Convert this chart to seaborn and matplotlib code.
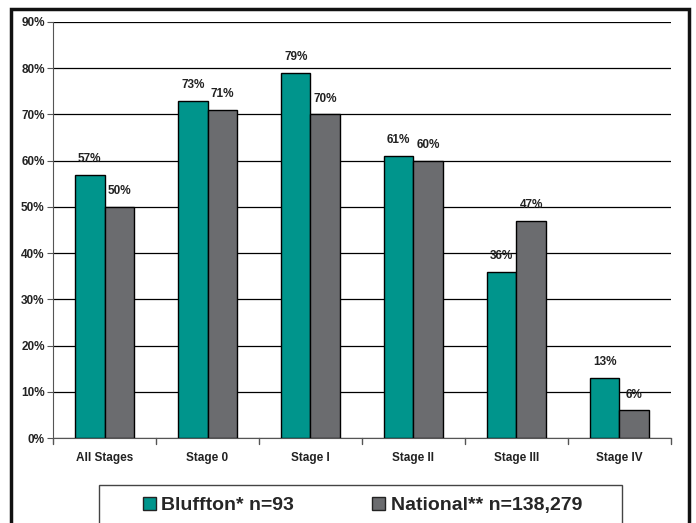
import seaborn as sns
import matplotlib.pyplot as plt
import matplotlib.patches as mpatches
import pandas as pd

sns.set_style("white")
plt.rcParams['font.family'] = ['Liberation Sans', 'DejaVu Sans']

stages = ["All Stages", "Stage 0", "Stage I", "Stage II", "Stage III", "Stage IV"]
bluffton = [57, 73, 79, 61, 36, 13]
national = [50, 71, 70, 60, 47, 6]
series = ["Bluffton* n=93", "National** n=138,279"]
colors = ["#00958C", "#6B6C6F"]

df = pd.DataFrame({
    "stage": stages * 2,
    "value": bluffton + national,
    "series": [series[0]] * len(stages) + [series[1]] * len(stages),
})

fig = plt.figure(figsize=(6.96, 5.23), dpi=100)
ax = fig.add_axes([0.0762, 0.1625, 0.8878, 0.7955])

sns.barplot(data=df, x="stage", y="value", hue="series", palette=colors,
            saturation=1, width=0.57, edgecolor="black", linewidth=1, ax=ax,
            legend=False, zorder=3)

# value labels
for cont in ax.containers:
    ax.bar_label(cont, labels=[f"{int(v)}%" for v in cont.datavalues],
                 padding=7, fontsize=8.5, fontweight="bold", color="#222222")

ax.set_ylim(0, 90)
ax.set_yticks(range(0, 91, 10))
ax.set_yticklabels([f"{t}%" for t in range(0, 91, 10)], fontsize=8.5,
                   fontweight="bold", color="#222222")
ax.yaxis.grid(True, color="black", linewidth=0.9, zorder=0)
ax.set_axisbelow(True)
ax.set_xlim(-0.5, len(stages) - 0.5)
ax.set_xticks(range(len(stages)))
ax.set_xticklabels(stages, fontsize=8.5, fontweight="bold", color="#222222")
ax.tick_params(axis="x", length=0, pad=10)
ax.tick_params(axis="y", left=True, length=4, color="#555555", pad=2)
# category separator ticks
for k in range(len(stages) + 1):
    ax.plot([k - 0.5, k - 0.5], [0, -1.2], color="#555555", lw=1,
            clip_on=False, zorder=4)
ax.set_xlabel("")
ax.set_ylabel("")
for s in ["top", "right"]:
    ax.spines[s].set_visible(False)
ax.spines["left"].set_color("#555555")
ax.spines["bottom"].set_color("#555555")

# legend (frame drawn separately)
handles = [mpatches.Patch(facecolor=c, edgecolor="#222222", label=l)
           for c, l in zip(colors, series)]
fig.legend(handles=handles, loc="center", bbox_to_anchor=(0.5208, 0.0335),
           ncol=2, frameon=False, handlelength=0.67, handleheight=0.67,
           handletextpad=0.3, columnspacing=4.0,
           prop={"weight": "bold", "size": 14})
fig.patches.append(mpatches.Rectangle((99 / 696, -0.01), 523 / 696,
                                      (523 - 485) / 523 + 0.01,
                                      transform=fig.transFigure, fill=False,
                                      edgecolor="#444444", linewidth=1))

# outer frame
fig.patches.append(mpatches.Rectangle((11 / 696, -0.02), 678 / 696,
                                      1 - 9 / 523 + 0.02,
                                      transform=fig.transFigure, fill=False,
                                      edgecolor="#111111", linewidth=2.5))

fig.savefig("out.png", dpi=100)
plt.close(fig)
